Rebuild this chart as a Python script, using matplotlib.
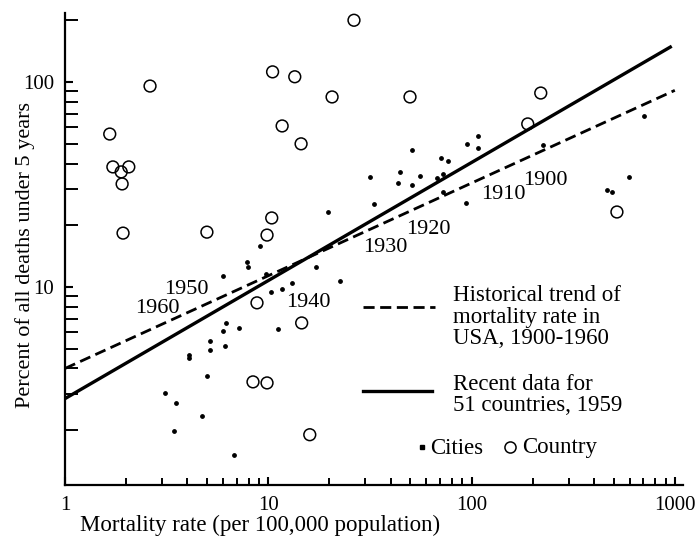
import matplotlib
matplotlib.use("Agg")
import matplotlib.pyplot as plt
from matplotlib.lines import Line2D
from matplotlib.ticker import LogLocator, FixedLocator, NullFormatter

plt.rcParams['font.family'] = ['Liberation Serif', 'DejaVu Serif']

# Country data (open circles)
country_x = [2.62, 1.66, 1.72, 2.06, 1.89, 1.91, 1.93, 4.99, 10.4, 9.86, 10.5, 13.5, 20.6,
             11.7, 14.5, 26.4, 49.8, 219, 189, 519, 8.80, 14.6, 8.41, 9.86, 16.0]
country_y = [95.5, 55.7, 38.5, 38.5, 36.4, 31.8, 18.3, 18.5, 21.7, 17.9, 112, 106, 84.5,
             61.0, 49.9, 200, 84.5, 88.3, 62.4, 23.2, 8.36, 6.67, 3.44, 3.40, 1.90]

# City data (dots)
city_x = [19.7, 31.6, 9.10, 50.9, 94.9, 107, 107, 44.4, 43.5, 50.9, 55.7, 70.7, 76.5, 67.6,
          72.3, 72.3, 33.1, 93.8, 224, 705, 595, 463, 491, 3.10, 3.52, 3.44, 4.07, 4.07,
          5.17, 5.17, 4.99, 4.72, 6.78, 5.98, 7.86, 7.94, 6.19, 5.98, 7.18, 6.12, 9.75,
          10.3, 11.7, 13.1, 11.2, 17.2, 22.5]
city_y = [23.2, 34.4, 15.8, 46.6, 49.9, 54.6, 47.6, 36.4, 32.1, 31.5, 34.8, 42.5, 41.2, 34.0,
          35.6, 29.0, 25.4, 25.7, 49.3, 68.2, 34.4, 29.7, 29.0, 3.04, 2.72, 1.99, 4.66, 4.51,
          4.93, 5.46, 3.68, 2.35, 1.51, 11.3, 13.2, 12.5, 6.67, 6.10, 6.31, 5.15, 11.6,
          9.46, 9.78, 10.5, 6.24, 12.5, 10.7]

# Trend lines
hist_x = [1, 1000]
hist_y = [4.0, 91.0]
recent_x = [1, 950]
recent_y = [2.85, 148]

# Year labels along historical trend
year_labels = ['1900', '1910', '1920', '1930', '1940', '1950', '1960']
year_x = [230, 143, 61, 37.5, 15.7, 3.94, 2.84]
year_y = [33.2, 28.1, 19.0, 15.5, 8.36, 9.67, 7.82]

xticks = [1, 10, 100, 1000]
xtick_labels = ['1', '10', '100', '1000']
yticks = [10, 100]
ytick_labels = ['10', '100']

W, H = 695, 540
fig = plt.figure(figsize=(W / 100, H / 100), dpi=100)
ax = fig.add_axes([65 / W, 1 - 485 / H, (683 - 65) / W, (485 - 13) / H])
ax.set_xscale('log')
ax.set_yscale('log')
ax.set_xlim(1, 1097)
ax.set_ylim(1.08, 217)

ax.plot(hist_x, hist_y, color='black', lw=2.0, ls=(0, (4, 2)), solid_capstyle='butt')
ax.plot(recent_x, recent_y, color='black', lw=2.4)
ax.scatter(country_x, country_y, s=72, facecolors='none', edgecolors='black', linewidths=1.1, zorder=3)
ax.scatter(city_x, city_y, s=6, color='black', zorder=3)

for t, x, y in zip(year_labels, year_x, year_y):
    ax.text(x, y, t, fontsize=16, ha='center', va='center')

for s in ['top', 'right']:
    ax.spines[s].set_visible(False)
for s in ['left', 'bottom']:
    ax.spines[s].set_linewidth(1.6)

ax.xaxis.set_major_locator(FixedLocator(xticks))
ax.set_xticklabels(xtick_labels)
ax.yaxis.set_major_locator(FixedLocator(yticks))
ax.set_yticklabels(ytick_labels)
ax.xaxis.set_minor_locator(LogLocator(base=10, subs=range(2, 10)))
ax.yaxis.set_minor_locator(LogLocator(base=10, subs=range(2, 10)))
ax.xaxis.set_minor_formatter(NullFormatter())
ax.yaxis.set_minor_formatter(NullFormatter())
ax.tick_params(axis='both', which='major', direction='in', length=6, width=1.5, labelsize=15, pad=8)
ax.tick_params(axis='x', which='minor', direction='in', length=5, width=1.4)
ax.tick_params(axis='y', which='minor', direction='in', length=9, width=1.4)

fig.text(260 / W, 1 - 525 / H, 'Mortality rate (per 100,000 population)', fontsize=16.5,
         ha='center', va='center')
fig.text(25 / W, 1 - 255 / H, 'Percent of all deaths under 5 years', fontsize=16,
         ha='center', va='center', rotation=90)

# Legend-like annotations
fig.add_artist(Line2D([363 / W, 435 / W], [1 - 307 / H, 1 - 307 / H], color='black', lw=2.0,
                      ls=(0, (4, 2)), transform=fig.transFigure))
fig.text(453 / W, 1 - 317 / H, 'Historical trend of\nmortality rate in\nUSA, 1900-1960',
         fontsize=16.5, ha='left', va='center', linespacing=1.05)
fig.add_artist(Line2D([363 / W, 432 / W], [1 - 391 / H, 1 - 391 / H], color='black', lw=2.4,
                      transform=fig.transFigure))
fig.text(453 / W, 1 - 395 / H, 'Recent data for\n51 countries, 1959',
         fontsize=16.5, ha='left', va='center', linespacing=1.05)
fig.add_artist(Line2D([422 / W], [1 - 447 / H], marker='s', ms=3, color='black', ls='none',
                      transform=fig.transFigure))
fig.text(430 / W, 1 - 448 / H, 'Cities', fontsize=16.5, ha='left', va='center')
fig.add_artist(Line2D([510 / W], [1 - 447 / H], marker='o', ms=8, mfc='none', mec='black',
                      mew=1.1, ls='none', transform=fig.transFigure))
fig.text(522 / W, 1 - 448 / H, 'Country', fontsize=16.5, ha='left', va='center')

fig.savefig('out.png', dpi=100, facecolor='white')
